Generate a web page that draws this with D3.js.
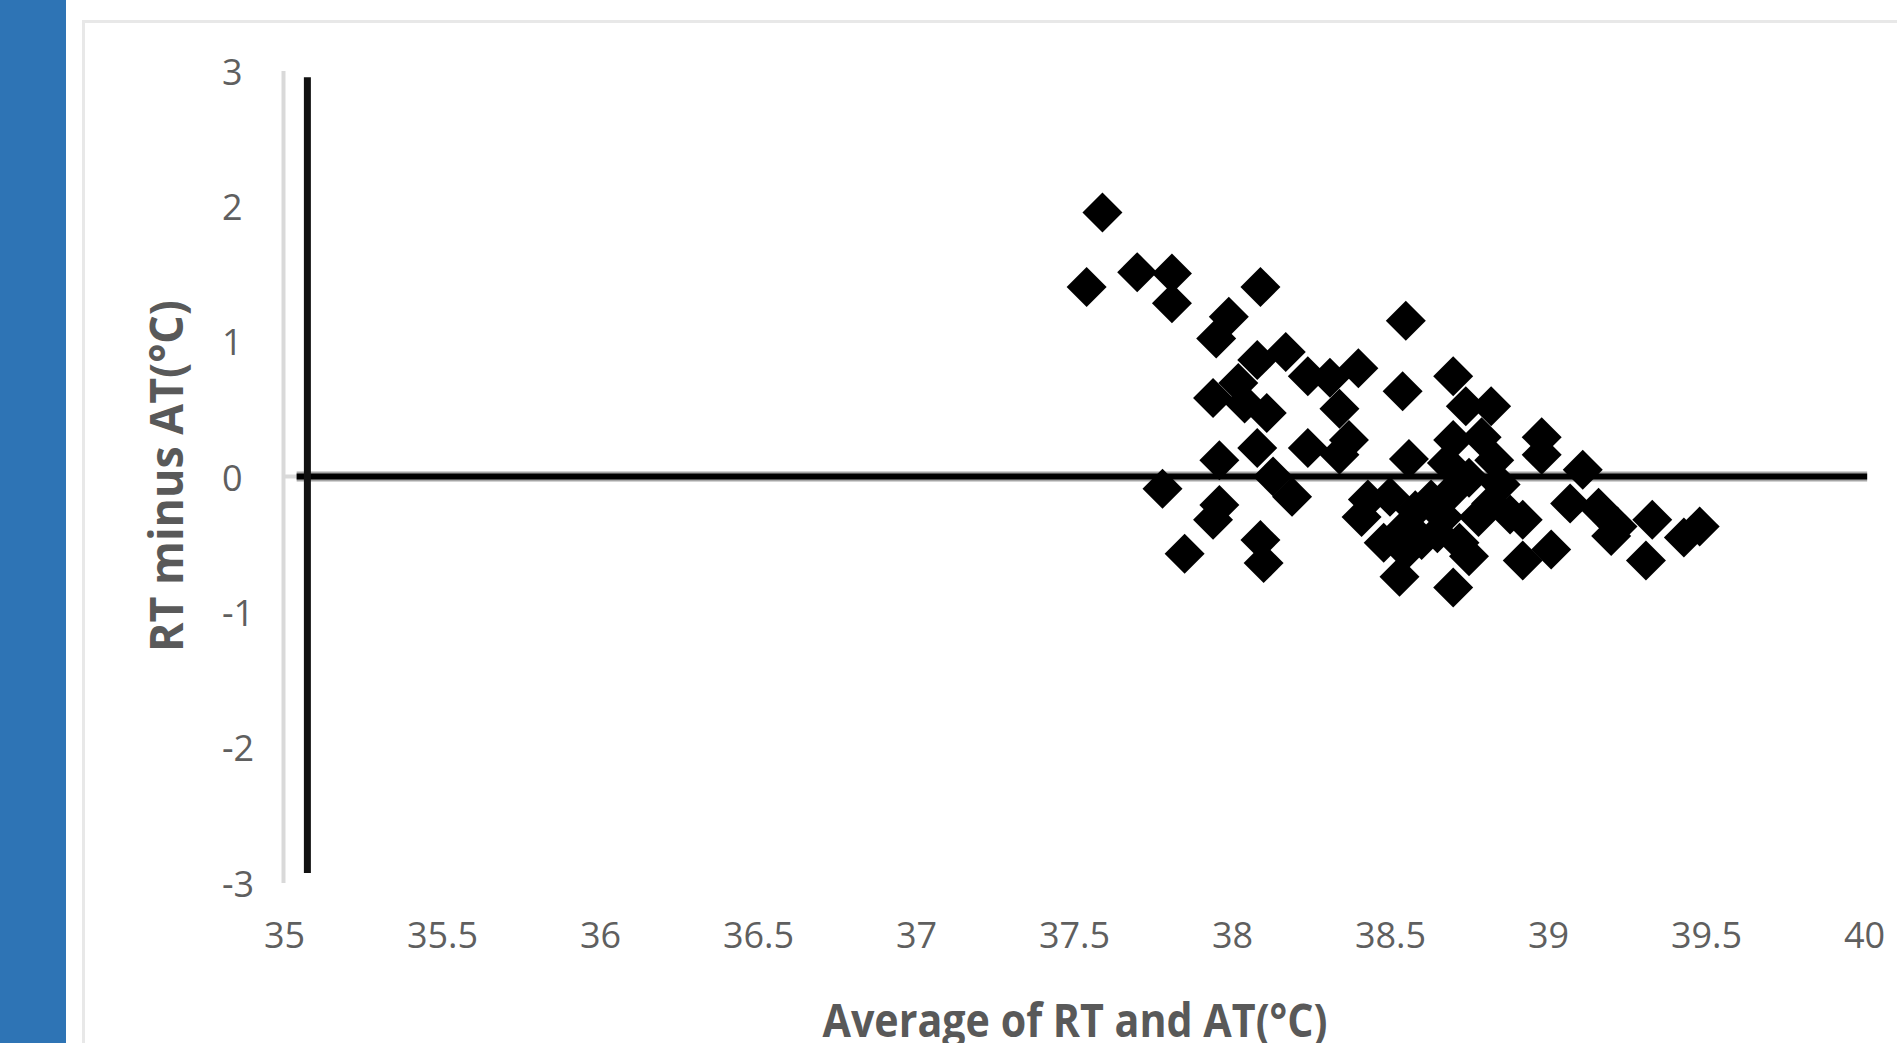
<!DOCTYPE html>
<html>
<head>
<meta charset="utf-8">
<script src="https://cdn.jsdelivr.net/npm/d3@7"></script>
<style>
  body { margin: 0; background: #fff; }
  svg { display: block; }
</style>
</head>
<body>
<svg id="chart"></svg>
<script>
var width = 1897
var height = 1043

// tick values
var xTicks = [35, 35.5, 36, 36.5, 37, 37.5, 38, 38.5, 39, 39.5, 40]
var yTicks = [-3, -2, -1, 0, 1, 2, 3]

// average of RT and AT
var avgTemp = [
  37.59, 37.54, 37.70, 37.81, 37.81, 38.09, 37.99, 37.95, 38.55, 38.54,
  38.70, 38.08, 38.17, 38.02, 37.94, 38.11, 38.04, 38.24, 38.31, 38.40,
  38.34, 38.37, 38.24, 38.08, 37.96, 38.13, 38.19, 38.56, 37.78, 37.94,
  37.96, 37.85, 38.09, 38.10, 38.34, 38.48, 38.50, 38.53, 38.53, 38.70,
  38.74, 38.82, 38.98, 38.98, 39.11, 38.70, 38.79, 38.83, 38.68, 38.75,
  38.43, 38.67, 38.60, 38.72, 38.41, 38.75, 38.92, 39.01, 38.92, 38.88,
  39.07, 39.22, 39.33, 39.31, 39.16, 39.20, 39.43, 39.48, 38.63, 38.85,
  38.58, 38.78, 38.70, 38.82, 38.65, 38.55
]
// RT minus AT
var diffTemp = [
  1.95, 1.40, 1.51, 1.50, 1.28, 1.40, 1.18, 1.02, 1.15, 0.63,
  0.74, 0.86, 0.92, 0.69, 0.58, 0.47, 0.54, 0.74, 0.73, 0.80,
  0.50, 0.27, 0.21, 0.21, 0.12, 0.00, -0.15, 0.13, -0.09, -0.32,
  -0.21, -0.57, -0.47, -0.64, 0.16, -0.49, -0.15, -0.42, -0.74, -0.82,
  0.52, 0.52, 0.29, 0.16, 0.05, 0.27, 0.29, 0.12, 0.10, -0.01,
  -0.17, -0.30, -0.47, -0.49, -0.30, -0.59, -0.62, -0.54, -0.32, -0.28,
  -0.20, -0.37, -0.32, -0.62, -0.23, -0.44, -0.45, -0.37, -0.17, -0.06,
  -0.25, -0.30, -0.10, -0.20, -0.42, -0.55
]

// the two black reference lines drawn on the chart
var zeroLine = [[35.04, 0], [40.01, 0]]
var sideLine = [[35.074, 2.95], [35.074, -2.93]]

var points = avgTemp.map((d, i) => ({x: d, y: diffTemp[i]}))

var svg = d3.select("#chart")
    .attr("width", width)
    .attr("height", height)

// page frame
svg.append("rect")
    .attr("x", 0).attr("y", 0)
    .attr("width", 66).attr("height", height)
    .attr("fill", "#2e74b5")
svg.append("path")
    .attr("d", `M83.5,${height} V21.5 H${width}`)
    .attr("fill", "none")
    .attr("stroke", "#e8e8e8")
    .attr("stroke-width", 3)

var x = d3.scaleLinear()
    .domain([35, 40])
    .range([284, 1864])

var y = d3.scaleLinear()
    .domain([-3, 3])
    .range([882.5, 70.5])

var line = d3.line()
    .x(d => x(d[0]))
    .y(d => y(d[1]))

// plain hyphen for negatives, as in the original
var fmt = d => String(d)

// x axis labels
svg.append("g")
    .attr("transform", `translate(0,${y(-3)})`)
    .call(d3.axisBottom(x).tickValues(xTicks).tickSize(0).tickPadding(40).tickFormat(fmt))
    .call(g => g.select(".domain").remove())
    .call(g => g.selectAll("text")
        .attr("fill", "#5f5f5f")
        .style("font", "36px 'Open Sans'"))

// y axis
svg.append("g")
    .attr("transform", "translate(283,0)")
    .call(d3.axisLeft(y).tickValues(yTicks).tickSize(0).tickSizeOuter(0).tickFormat(fmt))
    .call(g => g.select(".domain")
        .attr("stroke", "#d9d9d9")
        .attr("stroke-width", 4))
    .call(g => g.selectAll("text")
        .attr("text-anchor", "start")
        .attr("x", 222 - 283)
        .attr("dy", "0.38em")
        .attr("fill", "#5f5f5f")
        .style("font", "36px 'Open Sans'"))

// horizontal axis line sits at zero
svg.append("line")
    .attr("x1", x(35)).attr("x2", x(40))
    .attr("y1", y(0)).attr("y2", y(0))
    .attr("stroke", "#d9d9d9")
    .attr("stroke-width", 4)

svg.append("path")
    .attr("d", line(zeroLine))
    .attr("stroke", "#a6a6a6")
    .attr("stroke-width", 10)
svg.append("path")
    .attr("d", line(zeroLine))
    .attr("stroke", "#000")
    .attr("stroke-width", 6)

svg.append("path")
    .attr("d", line(sideLine))
    .attr("stroke", "#111")
    .attr("stroke-width", 7)

// diamond markers
var diamond = d3.symbol().type(d3.symbolSquare).size(800)
svg.append("g")
  .selectAll("path")
  .data(points)
  .join("path")
    .attr("transform", d => `translate(${x(d.x)},${y(d.y)}) rotate(45)`)
    .attr("d", diamond)
    .attr("fill", "#000")

// axis titles
svg.append("text")
    .attr("x", 1075)
    .attr("y", 1037)
    .attr("text-anchor", "middle")
    .attr("textLength", 505)
    .attr("lengthAdjust", "spacingAndGlyphs")
    .attr("fill", "#595959")
    .style("font", "bold 47px 'Open Sans'")
    .text("Average of RT and AT(°C)")

svg.append("text")
    .attr("transform", "translate(183,476) rotate(-90)")
    .attr("text-anchor", "middle")
    .attr("textLength", 352)
    .attr("lengthAdjust", "spacingAndGlyphs")
    .attr("fill", "#595959")
    .style("font", "bold 47px 'Open Sans'")
    .text("RT minus AT(°C)")
</script>
</body>
</html>
